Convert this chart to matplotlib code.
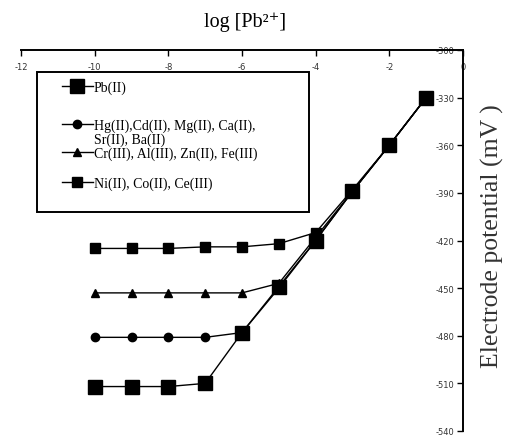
import matplotlib
matplotlib.use("Agg")
import matplotlib.pyplot as plt
from matplotlib.patches import Rectangle

plt.rcParams["axes.unicode_minus"] = False

# Data
log_pb = [-10, -9, -8, -7, -6, -5, -4, -3, -2, -1]
pb_ii = [-512, -512, -512, -510, -478, -449, -420, -389, -360, -330]
hg_group = [-481, -481, -481, -481, -478, -450, -420, -389, -360, -330]
cr_group = [-453, -453, -453, -453, -453, -447, -418, -389, -360, -330]
ni_group = [-425, -425, -425, -424, -424, -422, -415, -388, -360, -330]

labels = ["Pb(II)",
          "Hg(II),Cd(II), Mg(II), Ca(II),",
          "Cr(III), Al(III), Zn(II), Fe(III)",
          "Ni(II), Co(II), Ce(III)"]
label_cont = "Sr(II), Ba(II)"
x_ticks = [-12, -10, -8, -6, -4, -2, 0]
y_ticks = [-540, -510, -480, -450, -420, -390, -360, -330, -300]

W, H = 513, 439
fig = plt.figure(figsize=(W / 100, H / 100), dpi=100)
ax = fig.add_axes([21 / W, 1 - 432 / H, 442 / W, 381 / H])

serif = ["Liberation Serif", "DejaVu Serif"]

h1, = ax.plot(log_pb, pb_ii, color="black", lw=1.0, marker="s", ms=9.5)
h2, = ax.plot(log_pb, hg_group, color="black", lw=1.0, marker="o", ms=6)
h3, = ax.plot(log_pb, cr_group, color="black", lw=1.0, marker="^", ms=6)
h4, = ax.plot(log_pb, ni_group, color="black", lw=1.0, marker="s", ms=6.5)

ax.set_xlim(-12, 0)
ax.set_ylim(-540, -300)
ax.set_xticks(x_ticks)
ax.set_yticks(y_ticks)

for s in ["left", "bottom"]:
    ax.spines[s].set_visible(False)
for s in ["top", "right"]:
    ax.spines[s].set_linewidth(1.4)

ax.xaxis.tick_top()
ax.yaxis.tick_right()
ax.tick_params(axis="x", direction="in", length=4, width=1, pad=-9,
               labelsize=6, labelcolor="#333333")
ax.tick_params(axis="y", direction="in", length=4, width=1, pad=-6,
               labelsize=6, labelcolor="#333333")
for t in ax.get_xticklabels():
    t.set_verticalalignment("top")
for t in ax.get_yticklabels():
    t.set_horizontalalignment("right")

fig.text(245 / W, 1 - 22 / H, "log [Pb²⁺]", fontfamily=serif, fontsize=14.5,
         ha="center", va="center")
fig.text(492 / W, 1 - 236 / H, "Electrode potential (mV )", fontfamily=serif,
         fontsize=18.5, rotation=90, ha="center", va="center", color="#333333")

# Legend: one row per entry, inside a single frame
fs = 10
rows = [(h1, labels[0], 88), (h2, labels[1], 126), (h3, labels[2], 154), (h4, labels[3], 184)]
for h, lab, yc in rows:
    lg = fig.legend(handles=[h], labels=[lab], loc="center left",
                    bbox_to_anchor=(62 / W, 1 - yc / H),
                    bbox_transform=fig.transFigure,
                    prop={"family": serif, "size": fs},
                    frameon=False, handlelength=2.2, handletextpad=0.1,
                    borderpad=0, borderaxespad=0)
fig.text(94 / W, 1 - 140 / H, label_cont, fontfamily=serif, fontsize=fs,
         ha="left", va="center")
fig.add_artist(Rectangle((37 / W, 1 - 213 / H), 272 / W, 140 / H,
                         transform=fig.transFigure, fill=False,
                         edgecolor="black", linewidth=1.4))

fig.savefig("out.png", dpi=100)
